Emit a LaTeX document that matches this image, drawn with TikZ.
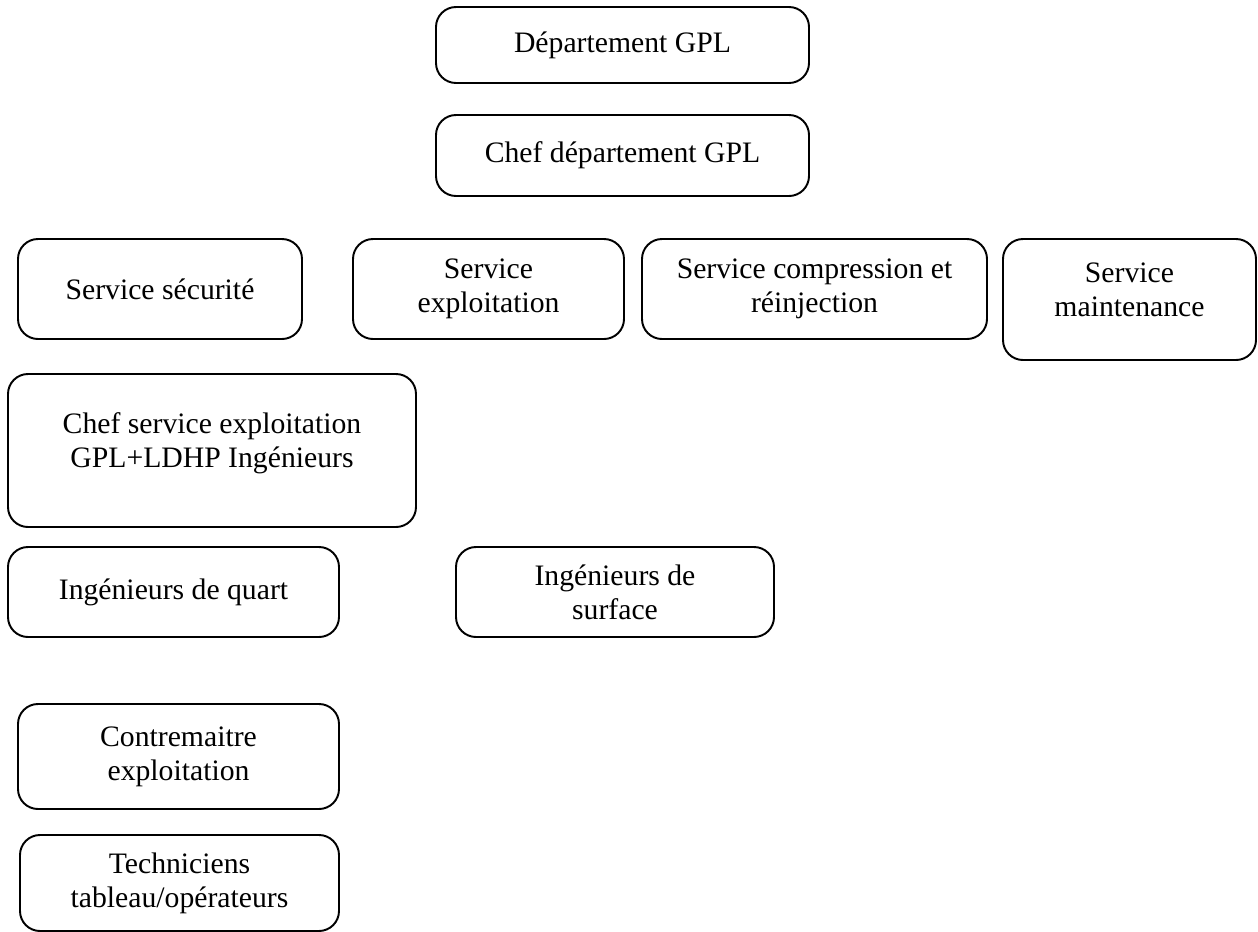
\documentclass[tikz,border=0pt]{standalone}
\usepackage{fontspec}
\setmainfont{Liberation Serif}
\usetikzlibrary{positioning}

\begin{document}
\begin{tikzpicture}[
  boite/.style={draw, rectangle, rounded corners=0.4cm, line width=1.1pt, align=center,
    font=\fontsize{16.9}{19.5}\selectfont}]

  \useasboundingbox (0,0) rectangle (25.16,-18.64);

  % Direction du departement
  \node[boite, minimum width=7.46cm, minimum height=1.52cm] (Dep) at (12.45,-0.90) {Département GPL};
  \node[boite, minimum width=7.46cm, minimum height=1.62cm] (ChefDep) at (12.45,-3.11) {Chef département GPL};

  % Les services
  \node[boite, minimum width=5.68cm, minimum height=2.00cm] (SS) at (3.20,-5.78) {Service sécurité};
  \node[boite, minimum width=5.42cm, minimum height=2.00cm] (SE) at (9.77,-5.78) {Service\\ exploitation};
  \node[boite, minimum width=6.90cm, minimum height=2.00cm] (SC) at (16.29,-5.78) {Service compression et\\ réinjection};
  \node[boite, minimum width=5.06cm, minimum height=2.42cm] (SM) at (22.59,-5.99) {Service\\ maintenance\\[-8pt]};

  % Exploitation
  \node[boite, minimum width=8.16cm, minimum height=3.06cm] (CSE) at (4.24,-9.01) {Chef service exploitation\\ GPL+LDHP Ingénieurs\\[-8pt]};
  \node[boite, minimum width=6.62cm, minimum height=1.80cm] (IQ) at (3.47,-11.84) {Ingénieurs de quart};
  \node[boite, minimum width=6.36cm, minimum height=1.80cm] (IS) at (12.30,-11.84) {Ingénieurs de\\ surface};
  \node[boite, minimum width=6.42cm, minimum height=2.10cm] (CE) at (3.57,-15.13) {Contremaitre\\ exploitation};
  \node[boite, minimum width=6.38cm, minimum height=1.92cm] (TT) at (3.59,-17.66) {Techniciens\\ tableau/opérateurs};

\end{tikzpicture}
\end{document}
